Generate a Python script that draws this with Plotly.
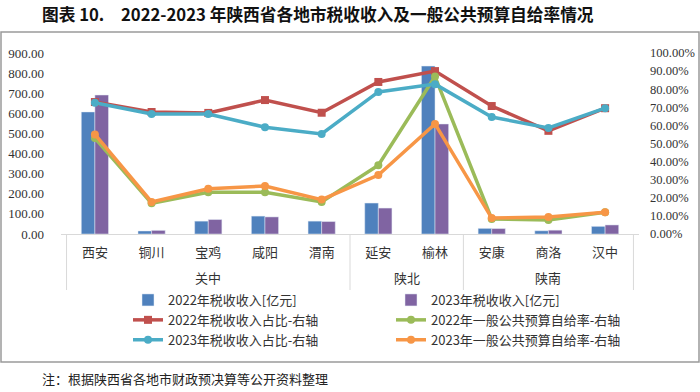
import plotly.graph_objects as go

cities = ['西安', '铜川', '宝鸡', '咸阳', '渭南', '延安', '榆林', '安康', '商洛', '汉中']
regions = ['关中', '关中', '关中', '关中', '关中', '陕北', '陕北', '陕南', '陕南', '陕南']
tax2022 = [607, 15, 64, 89, 64, 154, 835, 28, 16, 38]
tax2023 = [691, 18, 72, 85, 62, 129, 547, 27, 19, 45]
share2022 = [72.9, 67.4, 66.9, 74.0, 67.0, 84.0, 90.0, 70.7, 57.0, 69.5]
share2023 = [72.5, 66.3, 66.3, 59.0, 55.3, 78.5, 82.8, 64.6, 58.6, 69.5]
self2022 = [53.0, 17.0, 23.0, 23.0, 17.7, 38.0, 87.0, 8.3, 7.7, 12.0]
self2023 = [55.0, 17.7, 25.0, 26.5, 19.0, 32.6, 60.8, 8.8, 9.4, 12.0]

CJK = "Noto Sans CJK SC"
NUM = "Liberation Serif"

fig = go.Figure()
fig.add_trace(go.Bar(x=cities, y=tax2022, name='2022年税收收入[亿元]', marker_color='#4F81BD'))
fig.add_trace(go.Bar(x=cities, y=tax2023, name='2023年税收收入[亿元]', marker_color='#8064A2'))
fig.add_trace(go.Scatter(x=cities, y=share2022, name='2022年税收收入占比-右轴', yaxis='y2',
                         mode='lines+markers', line=dict(color='#C0504D', width=3.5),
                         marker=dict(symbol='square', size=8, color='#C0504D')))
fig.add_trace(go.Scatter(x=cities, y=self2022, name='2022年一般公共预算自给率-右轴', yaxis='y2',
                         mode='lines+markers', line=dict(color='#9BBB59', width=3.5),
                         marker=dict(symbol='circle', size=8, color='#9BBB59')))
fig.add_trace(go.Scatter(x=cities, y=share2023, name='2023年税收收入占比-右轴', yaxis='y2',
                         mode='lines+markers', line=dict(color='#4BACC6', width=3.5),
                         marker=dict(symbol='circle', size=8, color='#4BACC6')))
fig.add_trace(go.Scatter(x=cities, y=self2023, name='2023年一般公共预算自给率-右轴', yaxis='y2',
                         mode='lines+markers', line=dict(color='#F79646', width=3.5),
                         marker=dict(symbol='circle', size=8, color='#F79646')))

L, R, T, B = 61, 61, 53, 158
H = 392 - T - B
W = 700 - L - R

def px_x(p):
    return (p - L) / W

def px_y(p):
    return (392 - B - p) / H

# group boundaries and centres from the regions list
groups = []
for i, r in enumerate(regions):
    if not groups or groups[-1][0] != r:
        groups.append([r, i, i])
    else:
        groups[-1][2] = i

shapes = [dict(type='rect', xref='paper', yref='paper',
               x0=px_x(1), x1=px_x(699), y0=px_y(362), y1=px_y(32),
               line=dict(color='#9A9A9A', width=1.5), fillcolor='rgba(0,0,0,0)', layer='below')]
bounds = [groups[0][1] - 0.5] + [g[2] + 0.5 for g in groups]
for b in bounds:
    shapes.append(dict(type='line', xref='x', yref='paper', x0=b, x1=b, y0=0, y1=px_y(290),
                       line=dict(color='#D9D9D9', width=1)))

annotations = [dict(text='注：根据陕西省各地市财政预决算等公开资料整理', xref='paper', yref='paper',
                    x=px_x(40), y=px_y(378), xanchor='left', yanchor='middle', showarrow=False,
                    font=dict(family=CJK, size=13, color='#222222'))]
for name, a, b in groups:
    annotations.append(dict(text=name, xref='x', yref='paper', x=(a + b) / 2, y=px_y(277),
                            xanchor='center', yanchor='middle', showarrow=False,
                            font=dict(family=CJK, size=13, color='#333333')))

fig.update_layout(
    width=700, height=392,
    margin=dict(l=L, r=R, t=T, b=B),
    paper_bgcolor='white', plot_bgcolor='white',
    barmode='group', bargap=0.52, bargroupgap=0,
    font=dict(family=CJK, size=12, color='#333333'),
    title=dict(text='<b>图表 10.　2022-2023 年陕西省各地市税收收入及一般公共预算自给率情况</b>',
               x=42 / 700, xanchor='left', y=1 - 15 / 392, yanchor='middle',
               font=dict(family=CJK, size=16.7, color='#111111')),
    xaxis=dict(type='category', showgrid=False, showline=True, linecolor='#D9D9D9',
               linewidth=1, ticks='', automargin=False, ticklabelstandoff=6,
               tickfont=dict(family=CJK, size=13, color='#333333')),
    yaxis=dict(range=[0, 900], dtick=100, tickformat='.2f', showgrid=False,
               zeroline=False, showline=False, ticks='', ticklabelstandoff=16,
               automargin=False,
               tickfont=dict(family=NUM, size=13, color='#333333')),
    yaxis2=dict(range=[0, 100], dtick=10, tickformat='.2f', ticksuffix='%',
                overlaying='y', side='right', showgrid=False, zeroline=False,
                showline=False, ticks='', ticklabelstandoff=10, automargin=False,
                tickfont=dict(family=NUM, size=12.5, color='#333333')),
    legend=dict(orientation='h', x=128 / 700, xanchor='left', xref='container',
                y=1 - 285 / 392, yanchor='top', yref='container',
                entrywidth=218, entrywidthmode='pixels', tracegroupgap=0,
                font=dict(family=CJK, size=13, color='#333333'),
                bgcolor='rgba(0,0,0,0)', itemwidth=30),
    shapes=shapes,
    annotations=annotations,
)

fig.write_html('out.html', config={'displayModeBar': False},
               post_script="document.body.style.margin='0';")
